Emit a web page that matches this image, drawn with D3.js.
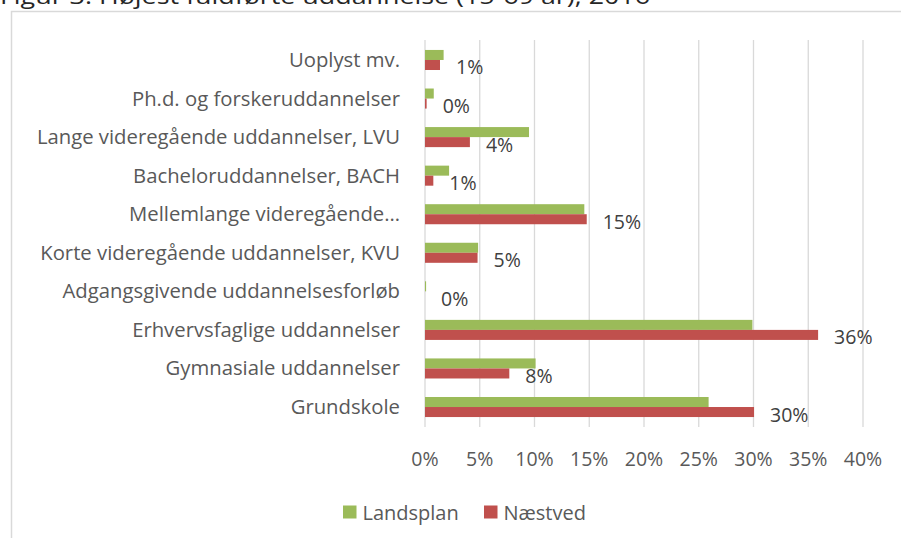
<!DOCTYPE html>
<html><head><meta charset="utf-8">
<script src="https://cdn.jsdelivr.net/npm/d3@7"></script>
<style>html,body{margin:0;padding:0;background:#fff;}svg{display:block;}</style>
</head><body>
<script>
const title = "Figur 3: Højest fuldførte uddannelse (15-69 år), 2016";
const categories = ["Uoplyst mv.","Ph.d. og forskeruddannelser","Lange videregående uddannelser, LVU","Bacheloruddannelser, BACH","Mellemlange videregående…","Korte videregående uddannelser, KVU","Adgangsgivende uddannelsesforløb","Erhvervsfaglige uddannelser","Gymnasiale uddannelser","Grundskole"];
const seriesNames = ["Landsplan","Næstved"];
const landsplan = [0.017,0.008,0.095,0.022,0.1455,0.0485,0.001,0.299,0.101,0.259];
const naestved  = [0.0137,0.0015,0.041,0.0076,0.1477,0.048,0.0,0.359,0.077,0.3005];
const ticks = [0,0.05,0.10,0.15,0.20,0.25,0.30,0.35,0.40];

const W=901,H=538;
const colors={"Landsplan":"#9BBB59","Næstved":"#C0504D"};
const font="'Open Sans', 'Noto Sans', sans-serif";
const svg=d3.select("body").append("svg").attr("width",W).attr("height",H);

// title (cut off at top, as in the reference)
svg.append("text").attr("x",0).attr("y",3.5).text(title)
  .attr("font-family",font).attr("font-size",22).attr("fill","#262626")
  .attr("textLength",650).attr("lengthAdjust","spacingAndGlyphs");

// frame
svg.append("path").attr("d","M11.5,538 L11.5,11.5 L901,11.5").attr("fill","none").attr("stroke","#d9d9d9").attr("stroke-width",1.5);

const x=d3.scaleLinear().domain([0,0.40]).range([425,863]);
const y=d3.scaleBand().domain(categories).range([40.7,426.3]).paddingInner(0.48).paddingOuter(0.24);
const ys=d3.scaleBand().domain(seriesNames).range([0,y.bandwidth()]);

// gridlines
svg.append("g").selectAll("line").data(ticks).join("line")
  .attr("x1",d=>x(d)).attr("x2",d=>x(d)).attr("y1",40).attr("y2",427)
  .attr("stroke","#d9d9d9").attr("stroke-width",1.3);

// bars
const data=categories.map((c,i)=>({c,vals:[{s:"Landsplan",v:landsplan[i]},{s:"Næstved",v:naestved[i]}]}));
const g=svg.append("g");
data.forEach(d=>{
  d.vals.forEach(e=>{
    g.append("rect").attr("x",x(0)).attr("y",y(d.c)+ys(e.s))
     .attr("width",Math.max(0,x(e.v)-x(0))).attr("height",ys.bandwidth())
     .attr("fill",colors[e.s]);
  });
});

// value labels (Næstved)
svg.append("g").selectAll("text").data(categories).join("text")
  .attr("x",(c,i)=>x(naestved[i])+16)
  .attr("y",c=>y(c)+ys("Næstved")+ys.bandwidth()/2+2)
  .attr("dominant-baseline","central")
  .attr("font-family",font).attr("font-size",19.5).attr("fill","#404040")
  .text((c,i)=>d3.format(".0%")(naestved[i]));

// category labels
svg.append("g").selectAll("text").data(categories).join("text")
  .attr("x",400).attr("y",c=>y(c)+y.bandwidth()/2-1)
  .attr("text-anchor","end").attr("dominant-baseline","central")
  .attr("font-family",font).attr("font-size",20.3).attr("fill","#595959")
  .text(d=>d);

// x tick labels
svg.append("g").selectAll("text").data(ticks).join("text")
  .attr("x",d=>x(d)).attr("y",458).attr("text-anchor","middle").attr("dominant-baseline","central")
  .attr("font-family",font).attr("font-size",19.5).attr("fill","#595959")
  .text(d=>d3.format(".0%")(d));

// legend
const leg=[{s:"Landsplan",x:343},{s:"Næstved",x:484}];
leg.forEach(l=>{
  svg.append("rect").attr("x",l.x).attr("y",505.5).attr("width",13.5).attr("height",13).attr("fill",colors[l.s]);
  svg.append("text").attr("x",l.x+19.5).attr("y",512).attr("dominant-baseline","central")
    .attr("font-family",font).attr("font-size",20).attr("fill","#595959").text(l.s);
});
</script>
</body></html>
